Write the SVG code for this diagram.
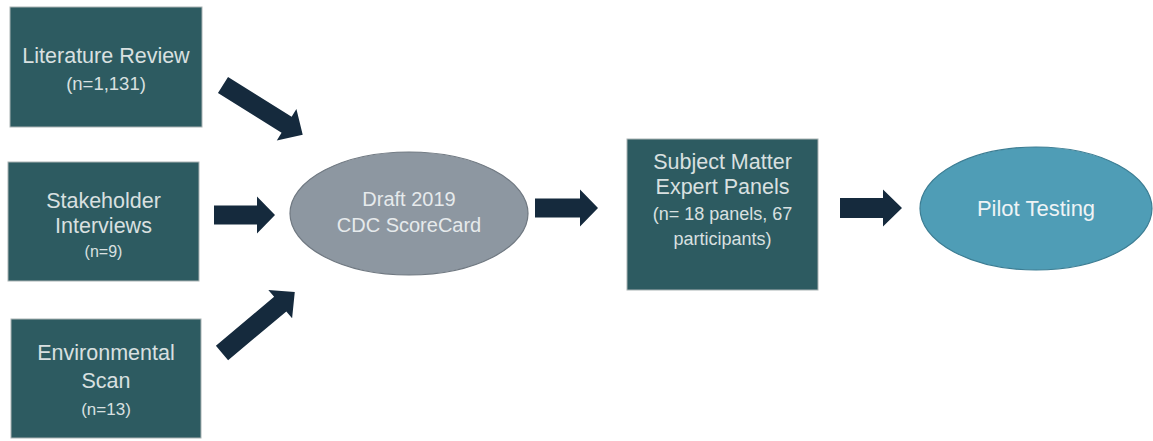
<svg xmlns="http://www.w3.org/2000/svg" width="1153" height="441" viewBox="0 0 1153 441">
  <style>
    .box { fill: #2d5b61; stroke: #aab3b4; stroke-width: 1; }
    .draft { fill: #8d97a1; stroke: #6f7881; stroke-width: 1.2; }
    .pilot { fill: #4f9db6; stroke: #3c7d93; stroke-width: 1.2; }
    .arrow { fill: #152a3d; }
    text { font-family: "Liberation Sans", Arial, sans-serif; text-anchor: middle; }
    .t { font-size: 21.5px; fill: #d9e0e0; }
    .nl { font-size: 18.5px; fill: #d9e0e0; }
    .ns { font-size: 16px; fill: #d9e0e0; }
    .n { font-size: 17px; fill: #d9e0e0; }
    .nm { font-size: 18px; fill: #d9e0e0; }
    .te { font-size: 20px; fill: #e6eaec; }
    .tp { font-size: 22px; fill: #eef3f5; }
  </style>
  <rect width="1153" height="441" fill="#ffffff"/>

  <!-- connectors: block arrows, each drawn pointing +x then placed -->
  <g id="connectors">
    <path class="arrow" transform="translate(223,85) rotate(32)" d="M0,-9.5 H75 V-18.5 L94,0 L75,18.5 V9.5 H0 Z"/>
    <path class="arrow" transform="translate(214,215)" d="M0,-9.5 H43 V-18.5 L61,0 L43,18.5 V9.5 H0 Z"/>
    <path class="arrow" transform="translate(222,353) rotate(-40)" d="M0,-9.5 H76 V-18.5 L95,0 L76,18.5 V9.5 H0 Z"/>
    <path class="arrow" transform="translate(535,208)" d="M0,-9.5 H45 V-18.5 L63,0 L45,18.5 V9.5 H0 Z"/>
    <path class="arrow" transform="translate(840,208)" d="M0,-10 H43 V-18.5 L62,0 L43,18.5 V10 H0 Z"/>
  </g>

  <g id="literature-review">
    <rect class="box" x="10" y="7" width="192" height="120"/>
    <text class="t" x="106" y="63">Literature Review</text>
    <text class="nl" x="106" y="90">(n=1,131)</text>
  </g>

  <g id="stakeholder-interviews">
    <rect class="box" x="8" y="162" width="191" height="119"/>
    <text class="t" x="103.5" y="208">Stakeholder</text>
    <text class="t" x="103.5" y="233">Interviews</text>
    <text class="ns" x="103.5" y="257">(n=9)</text>
  </g>

  <g id="environmental-scan">
    <rect class="box" x="11" y="319" width="190" height="119"/>
    <text class="t" x="106" y="360">Environmental</text>
    <text class="t" x="106" y="388">Scan</text>
    <text class="n" x="106" y="415">(n=13)</text>
  </g>

  <g id="draft-scorecard">
    <ellipse class="draft" cx="409" cy="213.5" rx="119" ry="61.5"/>
    <text class="te" x="409" y="206">Draft 2019</text>
    <text class="te" x="409" y="232">CDC ScoreCard</text>
  </g>

  <g id="expert-panels">
    <rect class="box" x="627" y="139" width="191" height="151"/>
    <text class="t" x="722.5" y="169">Subject Matter</text>
    <text class="t" x="722.5" y="194">Expert Panels</text>
    <text class="nm" x="722.5" y="220">(n= 18 panels, 67</text>
    <text class="nm" x="722.5" y="245">participants)</text>
  </g>

  <g id="pilot-testing">
    <ellipse class="pilot" cx="1036" cy="208.5" rx="116" ry="61.5"/>
    <text class="tp" x="1036" y="216">Pilot Testing</text>
  </g>
</svg>
